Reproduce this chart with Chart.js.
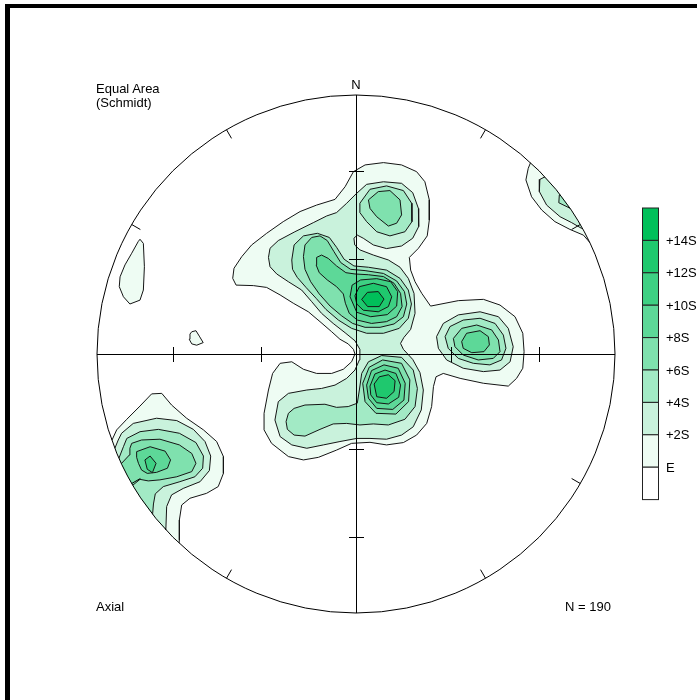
<!DOCTYPE html>
<html>
<head>
<meta charset="utf-8">
<title>Equal Area (Schmidt) – Axial, N = 190</title>
<script src="https://cdn.jsdelivr.net/npm/chart.js@4.4.1/dist/chart.umd.min.js"></script>
<style>
  html, body { margin: 0; padding: 0; background: #fff; overflow: hidden; }
  #wrap { position: relative; width: 697px; height: 700px; overflow: hidden; }
  #frame { position: absolute; left: 5px; top: 4px; width: 900px; height: 900px;
           border-left: 5px solid #000; border-top: 4px solid #000; }
  canvas, svg { position: absolute; left: 0; top: 0; }
</style>
</head>
<body>
<div id="wrap">
  <div id="frame"></div>
  <canvas id="net" width="697" height="700"></canvas>
  <svg id="notes" width="697" height="700" font-family="'Liberation Sans', Arial, Helvetica, sans-serif" font-size="13" fill="#000"></svg>
</div>
<script>
// ---- Kamb contour levels (expected count E plus multiples of sigma) ----
const LEVELS = ['E', '+2S', '+4S', '+6S', '+8S', '+10S', '+12S', '+14S'];
const LEVEL_COLORS = ['#eefcf3', '#c9f2dc', '#a2eac5', '#7fe1ae', '#5dd898', '#3ed083', '#1fc86e', '#00c05a'];
const LEGEND_LABELS = ['+14S', '+12S', '+10S', '+8S', '+6S', '+4S', '+2S', 'E'];

// Projection units: primitive circle radius = 100, centre = 0, north up.
const PRIMITIVE = 100;
const AXIS_TICK_DIPS = [30, 60];                           // marks along the N-S and E-W diameters
const RIM_TICK_AZIMUTHS = [30, 60, 120, 150, 210, 240, 300, 330];

// ---- contour polygons, [x, y] in projection units ----
// level E
const E_main = [[-47.6,29.2],[-47.1,33.1],[-44.1,37.6],[-40.3,42.1],[-34.5,46.6],[-28.1,51.1],[-21.6,55.0],[-15.2,57.5],[-8.1,59.7],[-4.2,64.6],[-1.0,70.4],[3.5,73.0],[10.6,73.9],[17.6,73.0],[23.4,70.4],[26.6,66.5],[28.3,59.5],[28.3,51.7],[27.5,45.6],[24.1,40.8],[20.6,37.3],[21.1,32.4],[22.8,27.9],[25.4,23.4],[28.8,18.5],[39.5,20.6],[49.2,21.1],[55.6,18.9],[61.4,14.4],[64.4,8.0],[64.9,0.9],[64.4,-5.5],[62.0,-9.4],[58.8,-12.4],[49.2,-11.3],[40.2,-9.4],[33.7,-7.5],[30.9,-8.8],[29.9,-12.6],[29.2,-20.3],[27.3,-26.8],[23.4,-31.3],[18.3,-34.2],[11.8,-35.1],[5.4,-34.1],[-1.7,-34.5],[-7.5,-37.1],[-14.5,-39.9],[-20.3,-40.9],[-26.1,-39.6],[-32.6,-34.5],[-35.5,-29.3],[-35.5,-22.9],[-33.8,-13.9],[-32.2,-7.5],[-29.3,-3.6],[-24.8,-3.0],[-20.3,-5.9],[-15.2,-7.5],[-9.4,-7.5],[-4.9,-5.9],[-1.7,-3.0],[-0.4,0.0],[-1.0,1.8],[-3.0,3.9],[-6.2,5.7],[-9.4,8.6],[-13.9,12.5],[-18.4,16.3],[-24.2,19.6],[-29.3,22.8],[-34.5,25.7],[-39.6,26.4],[-46.3,26.6]];
const E_west = [[-83.4,44.3],[-82.1,42.7],[-81.7,33.7],[-82.1,24.7],[-83.4,20.8],[-87.3,19.3],[-89.8,22.1],[-91.4,26.0],[-91.1,29.8],[-89.2,34.4],[-86.6,38.9],[-84.1,43.4]];
const E_small = [[-63.4,8.6],[-61.8,9.0],[-60.5,6.9],[-59.0,4.4],[-61.5,3.4],[-63.4,3.9],[-64.4,5.7],[-64.1,7.7]];
const E_sw = [[-78.9,-15.4],[-75.0,-15.2],[-71.2,-19.7],[-65.4,-24.8],[-58.9,-29.3],[-53.8,-33.8],[-51.2,-39.6],[-51.2,-46.1],[-53.2,-51.2],[-57.7,-53.8],[-64.1,-55.7],[-67.3,-58.3],[-68.2,-64.1],[-68.2,-71.8],[-69.0,-79.5],[-102.7,-64.1],[-102.7,-31.9],[-94.2,-33.2],[-92.4,-29.3],[-88.5,-25.2],[-83.4,-20.1]];
const E_ne = [[67.8,74.9],[66.5,71.7],[65.6,67.2],[67.8,60.7],[71.7,55.6],[76.8,51.1],[82.6,48.1],[87.8,45.9],[90.6,42.7],[94.2,42.7],[94.2,74.9]];
// level +2S
const S2_main = [[-33.8,37.3],[-33.2,40.8],[-30.0,43.8],[-23.6,47.2],[-16.5,50.7],[-11.3,53.3],[-7.5,54.6],[-3.6,58.2],[0.0,61.8],[4.1,65.5],[10.6,66.5],[17.6,65.9],[21.9,62.3],[24.1,56.2],[24.2,49.2],[21.9,44.7],[17.6,41.7],[11.8,40.7],[6.7,42.1],[2.8,44.7],[0.5,45.9],[-0.8,44.7],[-0.5,42.1],[1.5,40.2],[6.7,38.2],[12.5,36.3],[17.0,33.5],[20.2,29.2],[22.4,23.4],[22.8,15.7],[21.1,9.5],[18.5,6.4],[17.2,4.1],[18.3,1.8],[21.9,-2.1],[24.7,-7.2],[26.0,-13.9],[25.2,-21.6],[22.1,-28.1],[17.6,-31.3],[11.8,-32.9],[5.4,-32.6],[0.3,-32.6],[-6.2,-33.8],[-12.6,-35.1],[-19.0,-36.4],[-24.8,-35.1],[-29.3,-31.9],[-31.3,-25.5],[-30.0,-18.4],[-26.1,-15.2],[-19.0,-13.9],[-13.3,-13.3],[-8.1,-12.0],[-3.6,-9.4],[-0.4,-6.2],[1.3,-2.3],[1.5,1.8],[-0.4,5.1],[-4.2,8.2],[-8.8,11.8],[-13.3,15.7],[-17.1,20.2],[-21.0,24.7],[-26.1,27.9],[-30.6,30.9],[-33.2,33.7]];
const S2_east = [[31.1,6.7],[33.7,11.8],[39.5,15.1],[47.9,16.3],[55.0,14.4],[58.8,9.9],[60.7,2.8],[59.5,-3.0],[55.6,-6.2],[49.2,-6.8],[41.4,-5.5],[35.0,-2.3],[31.8,2.2]];
const S2_sw = [[-90.5,-30.6],[-86.0,-26.8],[-77.0,-24.8],[-69.2,-25.7],[-62.8,-29.1],[-58.3,-33.8],[-56.1,-39.4],[-56.6,-45.0],[-60.2,-49.3],[-66.7,-51.9],[-71.2,-54.4],[-73.1,-58.9],[-73.4,-67.3],[-73.6,-70.5],[-102.7,-64.1],[-102.7,-35.8],[-93.1,-36.4],[-91.8,-33.2]];
const S2_ne = [[74.3,69.1],[71.0,67.4],[70.8,62.7],[73.6,57.5],[78.8,53.0],[83.3,50.7],[87.1,48.5],[94.2,48.5],[94.2,69.1]];
// level +4S
const S4_main = [[-24.8,36.3],[-23.9,42.1],[-20.3,45.6],[-14.9,46.6],[-10.3,45.0],[-7.5,41.2],[-4.6,36.6],[-0.8,34.0],[4.8,33.5],[11.8,32.4],[17.0,29.2],[20.2,24.7],[21.4,19.3],[20.2,13.8],[16.7,9.9],[10.6,8.0],[4.1,8.0],[-1.7,9.9],[-6.8,13.1],[-11.6,17.2],[-15.4,21.5],[-19.3,25.7],[-22.7,29.6],[-24.5,32.7]];
const S4_north = [[1.5,58.2],[5.4,63.6],[11.8,64.9],[18.3,63.1],[21.5,58.2],[21.6,51.1],[18.9,47.2],[13.1,45.6],[8.0,47.2],[4.1,51.1],[1.5,54.6]];
const S4_south = [[-27.0,-26.1],[-26.1,-22.9],[-23.9,-21.0],[-19.7,-19.7],[-12.0,-19.4],[-7.5,-20.6],[-3.0,-20.3],[0.5,-19.0],[1.3,-13.9],[2.2,-7.5],[4.8,-3.0],[9.9,-0.6],[17.6,-1.3],[22.1,-6.2],[23.7,-13.3],[22.8,-20.3],[18.9,-25.2],[12.5,-27.4],[6.7,-27.0],[1.5,-27.4],[-3.6,-26.8],[-8.8,-27.0],[-13.9,-29.1],[-19.7,-31.7],[-23.9,-31.3],[-26.5,-29.1]];
const S4_east = [[34.4,6.7],[36.3,10.6],[41.4,13.1],[47.9,13.8],[53.7,11.8],[56.9,7.3],[57.9,2.2],[56.2,-2.3],[51.7,-4.2],[45.3,-3.6],[39.5,-1.7],[35.6,2.2]];
const S4_sw = [[-88.5,-32.6],[-83.4,-30.0],[-76.3,-29.1],[-68.2,-30.6],[-61.8,-34.2],[-58.9,-39.4],[-59.2,-44.1],[-62.2,-47.4],[-68.0,-49.3],[-74.4,-51.2],[-77.5,-54.0],[-78.2,-57.9],[-78.5,-61.5],[-78.9,-64.1],[-102.7,-64.1],[-102.7,-40.9],[-91.8,-40.9],[-89.8,-35.8]];
const S4_ne = [[78.5,61.4],[78.3,58.4],[82.6,56.3],[88.0,56.0],[82.0,63.0]];
// level +6S
const S6_main = [[-20.3,37.6],[-19.7,42.1],[-17.1,45.0],[-13.9,45.6],[-11.1,43.8],[-8.5,39.5],[-5.9,35.3],[-2.1,32.7],[3.5,32.2],[10.6,31.1],[15.7,28.2],[18.7,24.1],[19.6,19.3],[18.3,14.4],[14.7,11.6],[9.3,10.3],[3.5,10.3],[-1.3,11.8],[-5.5,14.7],[-10.0,18.5],[-14.2,23.2],[-17.5,27.9],[-19.7,32.7]];
const S6_north = [[4.8,59.5],[8.6,62.7],[13.1,63.1],[17.0,59.5],[17.6,53.7],[15.7,50.5],[12.5,49.4],[8.0,53.0],[5.4,56.2]];
const S6_south = [[2.6,-11.3],[5.1,-5.1],[10.3,-2.3],[17.6,-3.6],[20.8,-10.0],[20.3,-18.4],[15.4,-23.2],[7.7,-22.9],[3.5,-18.4]];
const S6_east = [[37.6,6.0],[40.8,9.9],[46.6,11.2],[52.4,9.3],[55.0,5.4],[55.6,0.9],[53.0,-1.7],[47.2,-2.3],[41.4,-0.4],[38.2,2.8]];
const S6_sw = [[-86.6,-34.5],[-82.8,-33.2],[-75.7,-32.9],[-68.2,-35.1],[-63.4,-38.4],[-61.8,-42.2],[-63.4,-45.4],[-69.2,-47.4],[-75.7,-48.6],[-80.2,-49.0],[-83.4,-48.4],[-86.6,-51.0],[-88.5,-52.5],[-102.7,-52.5],[-102.7,-42.2],[-90.5,-42.2],[-87.5,-39.0],[-87.3,-36.4]];
// level +8S
const S8_main = [[-15.2,37.3],[-13.3,38.2],[-10.7,36.9],[-7.5,34.0],[-3.9,31.4],[-0.4,30.9],[4.8,30.6],[10.6,29.9],[14.7,27.3],[17.2,23.4],[17.8,18.3],[15.7,14.4],[11.8,12.5],[6.0,11.8],[0.5,13.1],[-2.6,15.7],[-4.1,19.6],[-4.9,23.2],[-7.5,26.0],[-11.1,28.6],[-14.2,31.4],[-15.4,34.4]];
const S8_south = [[4.1,-12.0],[6.0,-6.4],[10.8,-4.2],[16.3,-5.5],[19.0,-11.3],[18.5,-17.8],[14.2,-21.4],[8.0,-21.0],[4.8,-17.1]];
const S8_east = [[40.8,4.8],[42.7,8.0],[47.9,9.0],[51.1,6.7],[51.5,3.5],[49.4,0.9],[44.7,0.5],[41.4,2.2]];
const S8_sw = [[-84.7,-37.7],[-79.5,-35.8],[-73.7,-37.5],[-71.6,-40.9],[-72.8,-44.1],[-77.0,-45.7],[-80.6,-46.1],[-82.8,-44.8],[-84.0,-42.2],[-84.7,-39.9]];
// level +10S
const S10_main = [[-2.3,22.1],[-1.5,26.6],[1.8,28.6],[8.0,29.1],[13.4,27.9],[16.1,24.1],[15.7,18.5],[12.1,15.2],[5.7,14.4],[0.3,16.1]];
const S10_south = [[5.4,-12.4],[7.3,-7.7],[11.2,-6.2],[15.4,-7.5],[17.2,-12.0],[16.5,-16.7],[12.5,-19.3],[8.0,-18.8],[5.7,-15.8]];
const S10_sw = [[-81.5,-40.9],[-79.5,-39.4],[-77.2,-42.2],[-78.6,-45.8],[-80.6,-44.5]];
// level +12S
const S12_main = [[-0.4,22.5],[1.3,26.0],[6.7,27.3],[11.8,26.0],[13.8,22.1],[12.5,18.3],[8.6,16.3],[2.8,16.9],[0.3,19.3]];
const S12_south = [[7.0,-11.6],[9.0,-8.8],[12.5,-8.0],[15.1,-10.3],[14.7,-14.5],[11.8,-17.1],[8.0,-16.5]];
// level +14S
const S14_main = [[2.2,21.1],[4.4,23.8],[8.6,24.1],[10.8,21.2],[9.0,18.3],[4.5,18.3]];

const CONTOURS = [
  [0, E_main], [0, E_west], [0, E_small], [0, E_sw], [0, E_ne],
  [1, S2_main], [1, S2_east], [1, S2_sw], [1, S2_ne],
  [2, S4_main], [2, S4_north], [2, S4_south], [2, S4_east], [2, S4_sw], [2, S4_ne],
  [3, S6_main], [3, S6_north], [3, S6_south], [3, S6_east], [3, S6_sw],
  [4, S8_main], [4, S8_south], [4, S8_east], [4, S8_sw],
  [5, S10_main], [5, S10_south], [5, S10_sw],
  [6, S12_main], [6, S12_south],
  [7, S14_main]
];

// ---- datasets: each contour is a closed filled line ----
const datasets = CONTOURS.map(([lvl, pts]) => {
  const ring = pts.map(([x, y]) => ({ x, y }));
  ring.push({ x: pts[0][0], y: pts[0][1] });
  return {
    label: LEVELS[lvl],
    data: ring,
    order: 20 - lvl,              // lower levels painted first
    showLine: true,
    fill: 'shape',
    backgroundColor: LEVEL_COLORS[lvl],
    borderColor: '#151515',
    borderWidth: 1,
    pointRadius: 0,
    pointHoverRadius: 0,
    tension: 0
  };
});

// ---- primitive circle, diameters and graduation marks ----
const stereonetFrame = {
  id: 'stereonetFrame',
  beforeDatasetsDraw(chart) {
    const { ctx, scales: { x, y } } = chart;
    const cx = x.getPixelForValue(0), cy = y.getPixelForValue(0);
    const R = x.getPixelForValue(PRIMITIVE) - cx;
    ctx.save();
    ctx.beginPath();
    ctx.arc(cx, cy, R, 0, Math.PI * 2);
    ctx.clip();
  },
  afterDatasetsDraw(chart) {
    const { ctx, scales: { x, y } } = chart;
    ctx.restore();
    const cx = x.getPixelForValue(0), cy = y.getPixelForValue(0);
    const R = x.getPixelForValue(PRIMITIVE) - cx;
    ctx.save();
    ctx.strokeStyle = '#000';
    ctx.lineWidth = 1;
    ctx.beginPath();
    ctx.arc(cx, cy, R, 0, Math.PI * 2);
    ctx.stroke();
    const hx = Math.round(cx) + 0.5, hy = Math.round(cy) + 0.5;
    ctx.beginPath();
    ctx.moveTo(cx - R, hy); ctx.lineTo(cx + R, hy);
    ctx.moveTo(hx, cy - R); ctx.lineTo(hx, cy + R);
    // equal-area radii of the dip graduations
    AXIS_TICK_DIPS.forEach(d => {
      const r = PRIMITIVE * Math.SQRT2 * Math.sin((90 - d) * Math.PI / 360);
      const rp = x.getPixelForValue(r) - cx;
      [-1, 1].forEach(s => {
        const tx = Math.round(cx + s * rp) + 0.5;
        ctx.moveTo(tx, cy - 7); ctx.lineTo(tx, cy + 8);
        const ty = Math.round(cy + s * rp) + 0.5;
        ctx.moveTo(cx - 7, ty); ctx.lineTo(cx + 8, ty);
      });
    });
    RIM_TICK_AZIMUTHS.forEach(az => {
      const a = az * Math.PI / 180;
      const sx = Math.sin(a), sy = -Math.cos(a);
      ctx.moveTo(cx + sx * R, cy + sy * R);
      ctx.lineTo(cx + sx * (R - 10), cy + sy * (R - 10));
    });
    ctx.stroke();
    ctx.restore();
  }
};

new Chart(document.getElementById('net'), {
  type: 'scatter',
  data: { datasets },
  options: {
    responsive: false,
    animation: false,
    events: [],
    layout: { padding: { left: 97, right: 82, top: 95, bottom: 87 } },
    scales: {
      x: { type: 'linear', min: -PRIMITIVE, max: PRIMITIVE, display: false },
      y: { type: 'linear', min: -PRIMITIVE, max: PRIMITIVE, display: false }
    },
    plugins: { legend: { display: false }, tooltip: { enabled: false } }
  },
  plugins: [stereonetFrame]
});

// ---- annotations and contour key ----
const NS = 'http://www.w3.org/2000/svg';
const svg = document.getElementById('notes');
function addText(str, x, y, anchor) {
  const t = document.createElementNS(NS, 'text');
  t.setAttribute('x', x); t.setAttribute('y', y);
  if (anchor) t.setAttribute('text-anchor', anchor);
  t.textContent = str;
  svg.appendChild(t);
}
addText('N', 356, 89, 'middle');
addText('Equal Area', 96, 93);
addText('(Schmidt)', 96, 107);
addText('Axial', 96, 611);
addText('N = 190', 565, 611);

const KEY_TOP = 208, KEY_STEP = 32.4, KEY_X = 642, KEY_W = 16;
const keyColors = LEVEL_COLORS.slice().reverse().concat(['#ffffff']);
keyColors.forEach((c, i) => {
  const r = document.createElementNS(NS, 'rect');
  r.setAttribute('x', KEY_X + 0.5); r.setAttribute('y', KEY_TOP + i * KEY_STEP);
  r.setAttribute('width', KEY_W); r.setAttribute('height', KEY_STEP);
  r.setAttribute('fill', c); r.setAttribute('stroke', '#222'); r.setAttribute('stroke-width', '1');
  svg.appendChild(r);
});
LEGEND_LABELS.forEach((lab, i) => addText(lab, 666, KEY_TOP + (i + 1) * KEY_STEP + 4.5));
</script>
</body>
</html>
